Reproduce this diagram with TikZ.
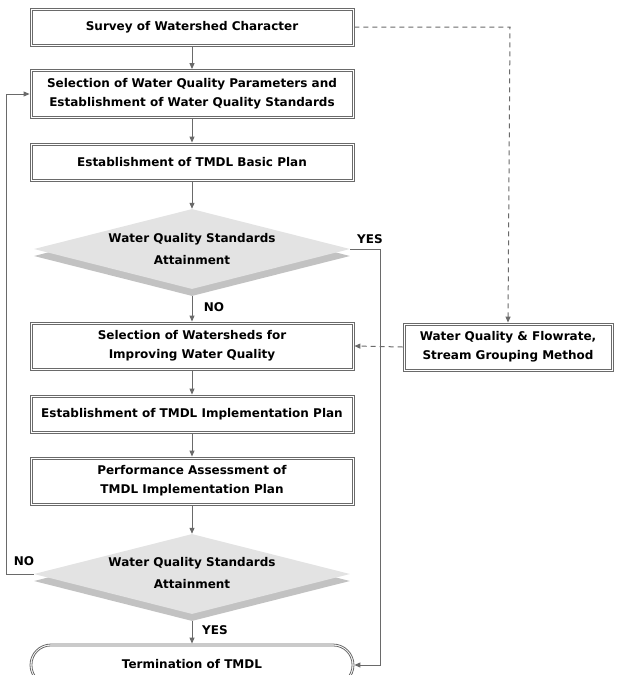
\documentclass[tikz,border=0pt]{standalone}
\usepackage{fontspec}
\setmainfont{DejaVu Sans}
\usetikzlibrary{arrows.meta,shapes.geometric}
\definecolor{ln}{HTML}{6A6A6A}
\definecolor{dfill}{HTML}{E3E3E3}
\definecolor{dshad}{HTML}{C2C2C2}
\tikzset{
  x=1pt,y=-1pt,
  every node/.style={font=\fontsize{12}{19}\selectfont\bfseries, align=center, text=black},
  boxstyle/.style={rectangle, draw=ln, line width=0.8pt, minimum width=324pt, inner sep=0pt},
  termstyle/.style={boxstyle, rounded corners=21pt},
  inner/.style={draw=ln, line width=0.8pt},
  dia/.style={diamond, fill=dfill, minimum width=316pt, minimum height=80pt, inner sep=0pt},
  diashad/.style={diamond, fill=dshad, minimum width=316pt, minimum height=80pt, inner sep=0pt},
  arr/.style={draw=ln, line width=1pt, -{Triangle[length=6pt,width=5pt]}},
  darr/.style={arr, dash pattern=on 5pt off 4pt},
  lbl/.style={font=\fontsize{12}{14}\selectfont\bfseries, inner sep=1pt}
}
\begin{document}
\begin{tikzpicture}
\useasboundingbox (0,0) rectangle (620,675);
% boxes
\node[boxstyle, minimum height=38pt] (b1) at (192,27) {Survey of Watershed Character};
\node[boxstyle, minimum height=49pt] (b2) at (192,94) {Selection of Water Quality Parameters and\\Establishment of Water Quality Standards};
\node[boxstyle, minimum height=38pt] (b3) at (192,162) {Establishment of TMDL Basic Plan};
\node[diashad] (d1s) at (192,256) {};
\node[dia] (d1) at (192,249) {};
\node (d1t) at (192,249) {Water Quality Standards\\[3pt]Attainment};
\node[boxstyle, minimum height=48pt] (b4) at (192,346) {Selection of Watersheds for\\Improving Water Quality};
\node[boxstyle, minimum height=38pt] (b5) at (192,414) {Establishment of TMDL Implementation Plan};
\node[boxstyle, minimum height=48pt] (b6) at (192,481) {Performance Assessment of\\TMDL Implementation Plan};
\node[diashad] (d2s) at (192,581) {};
\node[dia] (d2) at (192,574) {};
\node (d2t) at (192,573) {Water Quality Standards\\[3pt]Attainment};
\node[termstyle, minimum height=42pt] (t) at (192,665) {};
\node (tt) at (192,664) {Termination of TMDL};
\node[boxstyle, minimum width=210pt, minimum height=48pt] (r) at (508,347) {Water Quality \& Flowrate,\\Stream Grouping Method};
% inner borders
\foreach \n in {b1,b2,b3,b4,b5,b6,r}
  \draw[inner] ([xshift=2.4pt,yshift=-2.4pt]\n.north west) rectangle ([xshift=-2.4pt,yshift=2.4pt]\n.south east);
\draw[inner, rounded corners=18.6pt] ([xshift=2.4pt,yshift=-2.4pt]t.north west) rectangle ([xshift=-2.4pt,yshift=2.4pt]t.south east);
% coordinates
\coordinate (dv) at (510,27);
\coordinate (y1) at (380,249);
\coordinate (y2) at (380,665);
\coordinate (n1) at (6,574);
\coordinate (n2) at (6,94);
% connectors
\draw[arr] (b1) -- (b2);
\draw[arr] (b2) -- (b3);
\draw[arr] (b3) -- (d1.north);
\draw[arr] (d1s.south) -- (b4);
\draw[arr] (b4) -- (b5);
\draw[arr] (b5) -- (b6);
\draw[arr] (b6) -- (d2.north);
\draw[arr] (d2s.south) -- (t);
\draw[arr] (d1.east) -- (y1) -- (y2) -- (t.east);
\draw[arr] (d2.west) -- (n1) -- (n2) -- (b2.west);
\draw[darr] (b1.east) -- (dv) -- (r.north);
\draw[darr] (r.west) -- (b4.east);
% labels
\node[lbl] (lyes1) at (370,239) {YES};
\node[lbl] (lno1) at (214,307) {NO};
\node[lbl] (lno2) at (24,561) {NO};
\node[lbl] (lyes2) at (215,630) {YES};
\end{tikzpicture}
\end{document}
